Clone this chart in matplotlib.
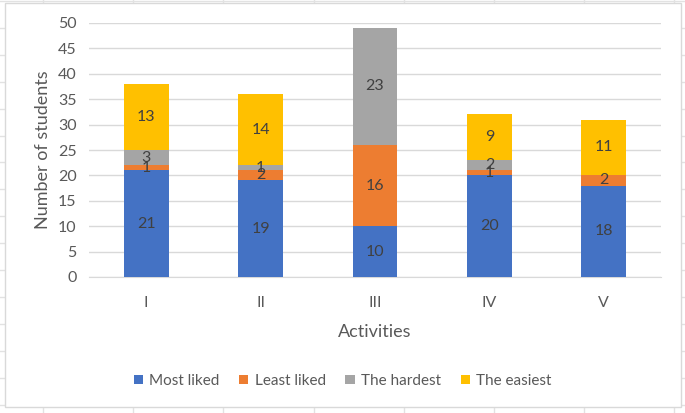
import matplotlib
matplotlib.use("Agg")
import matplotlib.pyplot as plt
from matplotlib.patches import Rectangle
from matplotlib.lines import Line2D
import numpy as np

plt.rcParams['font.family'] = ['Lato', 'DejaVu Sans']

categories = ["I", "II", "III", "IV", "V"]
most_liked = [21, 19, 10, 20, 18]
least_liked = [1, 2, 16, 1, 2]
hardest = [3, 1, 23, 2, 0]
easiest = [13, 14, 0, 9, 11]
series_names = ["Most liked", "Least liked", "The hardest", "The easiest"]
colors = ["#4472C4", "#ED7D31", "#A5A5A5", "#FFC000"]

W, H = 685, 413
fig = plt.figure(figsize=(W / 100, H / 100), dpi=100)
fig.patch.set_facecolor("white")

# spreadsheet cell lines in the background
cell_color = "#e2e2e2"
for x in np.arange(43, W, 90.2):
    fig.add_artist(Line2D([x / W, x / W], [0, 1], color=cell_color, lw=1, zorder=0))
for y in np.arange(1, H, 26.9):
    fig.add_artist(Line2D([0, 1], [1 - y / H, 1 - y / H], color=cell_color, lw=1, zorder=0))

# chart area box
x0, y0, x1, y1 = 5, 3, 681, 407
fig.add_artist(Rectangle((x0 / W, 1 - y1 / H), (x1 - x0) / W, (y1 - y0) / H,
                         facecolor="white", edgecolor="#d9d9d9", lw=1, zorder=1))

# plot area
px0, px1, py0, py1 = 89, 661, 23, 277
ax = fig.add_axes([px0 / W, 1 - py1 / H, (px1 - px0) / W, (py1 - py0) / H], zorder=2)
ax.set_facecolor("none")

x = np.arange(len(categories))
data = [most_liked, least_liked, hardest, easiest]
bottom = np.zeros(len(categories))
for vals, name, c in zip(data, series_names, colors):
    vals = np.array(vals, dtype=float)
    ax.bar(x, vals, 0.39, bottom=bottom, color=c, label=name, zorder=3)
    for xi, v, b in zip(x, vals, bottom):
        if v > 0:
            ax.text(xi, b + v / 2, f"{int(v)}", ha="center", va="center",
                    fontsize=11.5, color="#404040", zorder=4)
    bottom += vals

ax.set_xlim(-0.5, len(categories) - 0.5)
ax.set_ylim(0, 50)
ax.set_yticks(np.arange(0, 51, 5))
ax.set_xticks(x)
ax.set_xticklabels(categories)
ax.yaxis.grid(True, color="#d9d9d9", lw=1, zorder=0)
ax.set_axisbelow(True)
for s in ["top", "right", "left"]:
    ax.spines[s].set_visible(False)
ax.spines["bottom"].set_color("#d9d9d9")
ax.tick_params(axis="both", length=0, labelsize=11.5, colors="#595959")
ax.tick_params(axis="x", pad=14)
ax.tick_params(axis="y", pad=9)
ax.set_xlabel("Activities", fontsize=13, color="#595959", labelpad=10)
ax.set_ylabel("Number of students", fontsize=13, color="#595959", labelpad=5)

handles, labels = ax.get_legend_handles_labels()
fig.legend(handles, labels, loc="center", bbox_to_anchor=(0.5, 1 - 381 / H), ncol=4,
           frameon=False, fontsize=11, handlelength=0.6, handleheight=0.6,
           handletextpad=0.4, columnspacing=1.3, labelcolor="#595959")

fig.savefig("out.png", dpi=100, facecolor="white")
